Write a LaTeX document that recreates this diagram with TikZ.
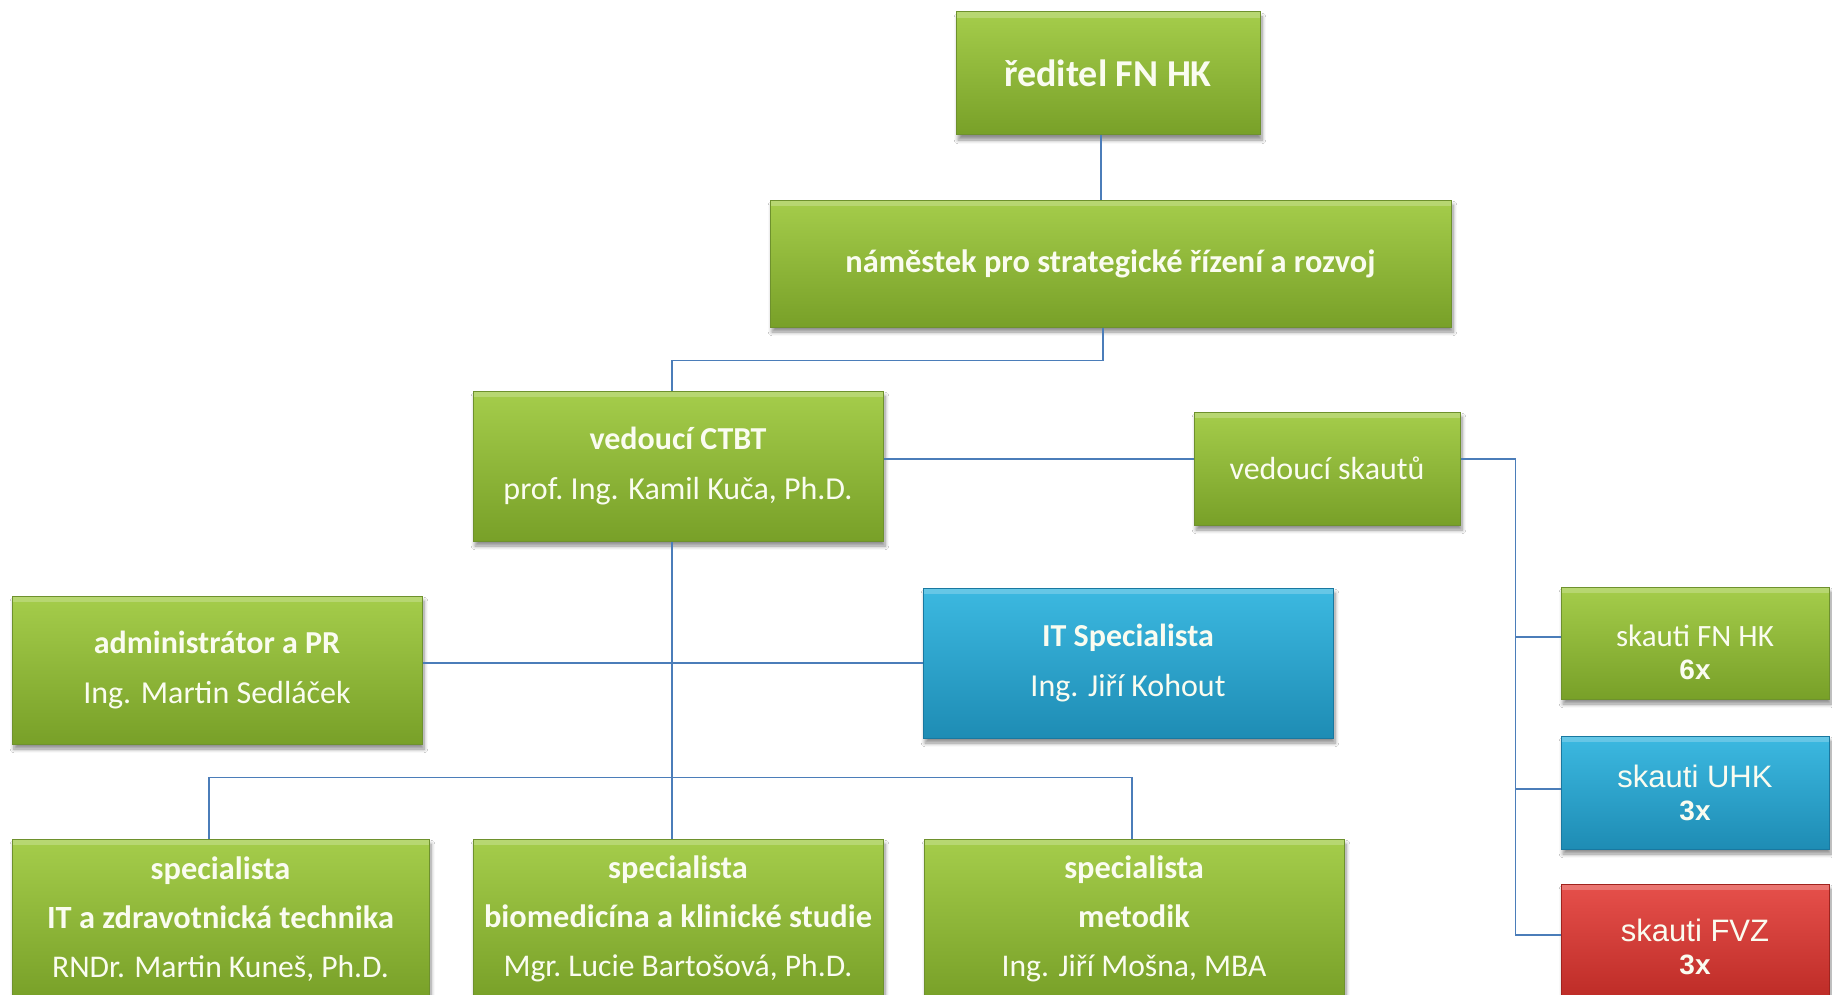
\documentclass[tikz,border=0pt]{standalone}
\usepackage{fontspec}
\setmainfont{Carlito}
\newfontfamily\arialf{Liberation Sans}
\usetikzlibrary{shadows.blur,calc}
\definecolor{gtop}{RGB}{165,205,75}
\definecolor{gbot}{RGB}{120,160,40}
\definecolor{gdraw}{RGB}{110,145,45}
\definecolor{btop}{RGB}{60,185,225}
\definecolor{bbot}{RGB}{30,140,180}
\definecolor{bdraw}{RGB}{25,120,160}
\definecolor{rtop}{RGB}{230,80,75}
\definecolor{rbot}{RGB}{185,40,35}
\definecolor{rdraw}{RGB}{160,35,30}
\definecolor{lnk}{RGB}{75,125,185}
\definecolor{txt}{RGB}{250,252,240}
\begin{document}
\begin{tikzpicture}[x=0.5pt,y=-0.5pt,
 box/.style={rectangle, inner sep=0pt, align=center, text=txt, line width=0.5pt,
   blur shadow={shadow xshift=1pt,shadow yshift=-2.5pt,shadow blur steps=6,shadow opacity=45},
   path picture={\fill[white,opacity=0.22] (path picture bounding box.north west) rectangle ([yshift=-3pt]path picture bounding box.north east);}},
 gbox/.style={box, top color=gtop, bottom color=gbot, draw=gdraw},
 bbox/.style={box, top color=btop, bottom color=bbot, draw=bdraw},
 rbox/.style={box, top color=rtop, bottom color=rbot, draw=rdraw},
 link/.style={draw=lnk, line width=0.8pt},
 ftwo/.style={font=\fontsize{16}{25}\selectfont},
 fthree/.style={font=\fontsize{16.2}{24.5}\selectfont},
 fsk/.style={font=\fontsize{15.5}{16.5}\selectfont}
]
\clip (0,0) rectangle (1832,995);
\fill[white] (0,0) rectangle (1832,995);
\newcommand{\cnt}[1]{{\arialf\bfseries\fontsize{14}{16}\selectfont #1}}
\newcommand{\regl}[1]{{\fontsize{15.8}{24.5}\selectfont #1}}

\node[gbox, minimum width=152pt, minimum height=61.5pt, font=\bfseries\fontsize{19}{23}\selectfont] (dir) at (1108,73.5) {ředitel FN HK};
\node[gbox, minimum width=340.5pt, minimum height=63.5pt, font=\bfseries\fontsize{16.2}{20}\selectfont] (nam) at (1110.5,263.5) {náměstek pro strategické řízení a rozvoj};
\node[gbox, minimum width=205pt, minimum height=75pt, ftwo] (ctbt) at (678,466) {\textbf{vedoucí CTBT}\\prof.\ Ing. Kamil Kuča, Ph.D.};
\node[gbox, minimum width=133pt, minimum height=56.5pt, ftwo] (vs) at (1327,468.5) {vedoucí skautů};
\node[gbox, minimum width=205pt, minimum height=74pt, ftwo] (adm) at (217,670) {\textbf{administrátor a PR}\\Ing. Martin Sedláček};
\node[bbox, minimum width=205pt, minimum height=75pt, ftwo] (its) at (1128,663) {\textbf{IT Specialista}\\Ing. Jiří Kohout};

\node[gbox, minimum width=134pt, minimum height=56pt, fsk] (sfn) at (1695,643) {\rule{0pt}{20pt}skauti FN HK\\\cnt{6x}};
\node[bbox, minimum width=134pt, minimum height=56.5pt, fsk] (suhk) at (1695,792.5) {{\arialf skauti UHK}\\\cnt{3x}};
\node[rbox, minimum width=134pt, minimum height=63pt, fsk] (sfvz) at (1695,947) {{\arialf skauti FVZ}\\\cnt{3x}};

\node[gbox, minimum width=208.5pt, minimum height=80pt, fthree] (sp1) at (220.5,919) {\textbf{specialista}\\\textbf{IT a zdravotnická technika}\\\regl{RNDr. Martin Kuneš, Ph.D.}};
\node[gbox, minimum width=205pt, minimum height=80pt, fthree] (sp2) at (678,919) {\textbf{specialista}\\\textbf{biomedicína a klinické studie}\\\regl{Mgr.\ Lucie Bartošová, Ph.D.}};
\node[gbox, minimum width=210pt, minimum height=80pt, fthree] (sp3) at (1134,919) {\textbf{specialista}\\\textbf{metodik}\\\regl{Ing. Jiří Mošna, MBA}};

% connectors
\draw[link] ([xshift=-3.5pt]dir.south) -- ([xshift=-3.5pt]dir.south |- nam.north);
\draw[link] ([xshift=-3.75pt]nam.south) -- ++(0,33) -| ([xshift=-3pt]ctbt.north);
\draw[link] ([yshift=3.5pt]ctbt.east) -- ([yshift=3.5pt]ctbt.east -| vs.west);
\draw[link] ([yshift=4.75pt]vs.east) -- ++(55,0) coordinate (bus) |- ([yshift=6pt]sfvz.west);
\draw[link] ([yshift=3pt]bus |- sfn.west) -- ([yshift=3pt]sfn.west);
\draw[link] ([yshift=1.75pt]bus |- suhk.west) -- ([yshift=1.75pt]suhk.west);
\draw[link] ([xshift=-3pt]ctbt.south) -- ([xshift=-3pt]ctbt.south |- sp2.north);
\draw[link] (adm.east |- its.west) -- (its.west);
\draw[link] ([xshift=-5.75pt]sp1.north) -- ++(0,-61) -| ([xshift=-1pt]sp3.north);
\end{tikzpicture}
\end{document}
